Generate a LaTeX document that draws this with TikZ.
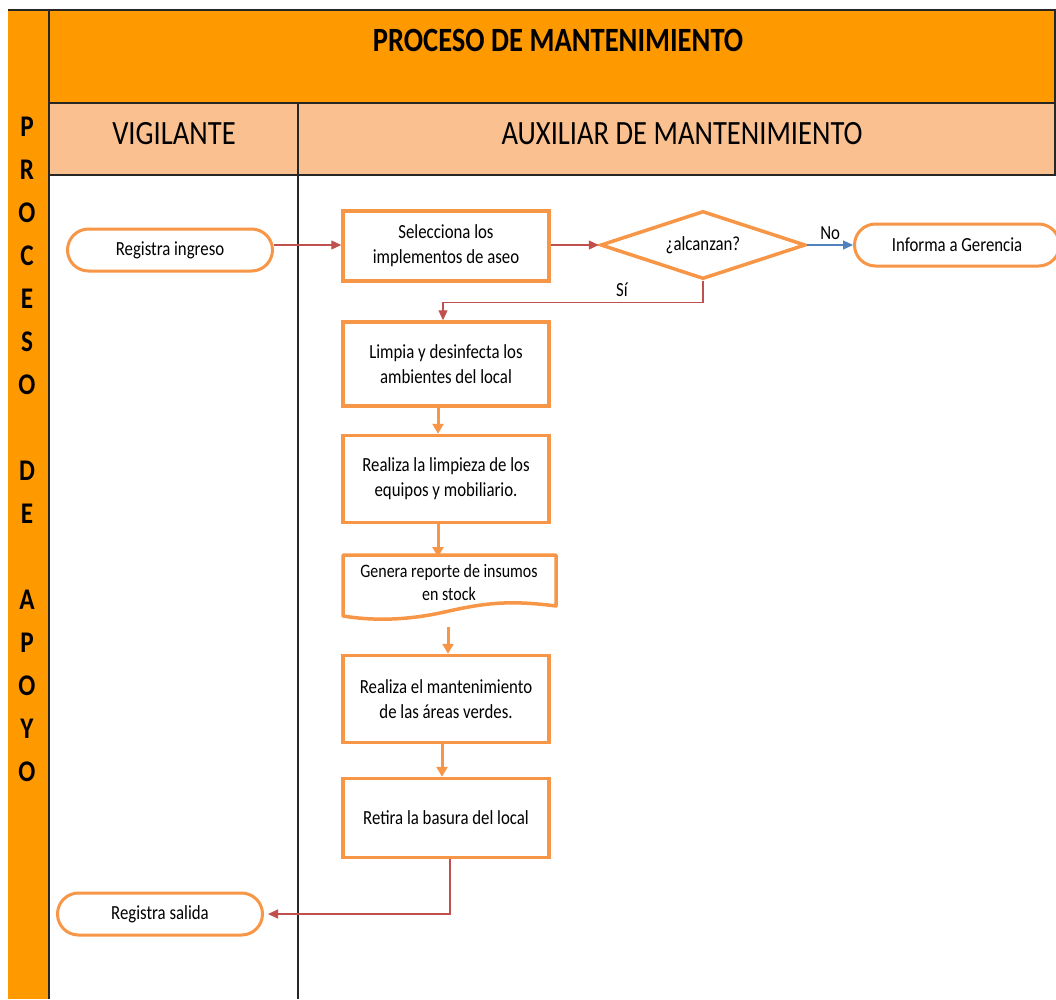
\documentclass[tikz,border=0pt]{standalone}
\usepackage{fontspec}
\setmainfont{Carlito}[FakeStretch=0.84]
\usetikzlibrary{shapes.geometric,arrows.meta}
\definecolor{hdr}{HTML}{FF9900}
\definecolor{subhdr}{HTML}{FAC090}
\definecolor{boxline}{HTML}{F79646}
\definecolor{flowred}{HTML}{C0504D}
\definecolor{flowblue}{HTML}{4F81BD}
\tikzset{
  grid/.style={line width=1.5pt, black!85},
  boxfont/.style={font=\fontsize{20}{25}\selectfont},
  stepbox/.style={draw=boxline, line width=3.5pt, fill=white, minimum width=206, minimum height=80,
    align=center, inner sep=2pt, boxfont},
  terminal/.style={draw=boxline, line width=3pt, fill=white, rounded corners=21pt,
    minimum width=205, minimum height=42, boxfont},
  decision/.style={diamond, draw=boxline, line width=3.5pt, fill=white, aspect=3, inner sep=0pt,
    minimum width=205, minimum height=68, boxfont},
  redflow/.style={draw=flowred, line width=1.2pt, -{Triangle[length=10pt,width=9pt]}},
  blueflow/.style={draw=flowblue, line width=1.2pt, -{Triangle[length=10pt,width=9pt]}},
  orangeflow/.style={draw=boxline, line width=3pt, -{Triangle[length=10pt,width=11pt]}},
  lblock/.style={font=\fontsize{30}{32}\selectfont\bfseries},
  headfont/.style={font=\fontsize{34}{38}\selectfont},
  flowlabel/.style={font=\fontsize{20}{24}\selectfont},
}
\begin{document}
\begin{tikzpicture}[x=1pt,y=-1pt]
\useasboundingbox (0,0) rectangle (1056,999);
\fill[white] (0,0) rectangle (1056,999);

% header bands and lanes
\fill[hdr] (8,10) rectangle (1056,103);
\fill[hdr] (8,103) rectangle (49,999);
\fill[subhdr] (49,103) rectangle (1056,175);
\draw[grid] (8,10) -- (1056,10);
\draw[grid] (1055,10) -- (1055,175);
\draw[grid] (49,10) -- (49,999);
\draw[grid] (49,103) -- (1056,103);
\draw[grid] (49,175) -- (1056,175);
\draw[grid] (298,103) -- (298,999);

\node[font=\fontsize{34}{38}\selectfont\bfseries] (title) at (558,40) {PROCESO DE MANTENIMIENTO};
\node[headfont] (lane1) at (174,134) {VIGILANTE};
\node[headfont] (lane2) at (682,134) {AUXILIAR DE MANTENIMIENTO};

% vertical side label
\foreach \ch [count=\i from 0] in {P,R,O,C,E,S,O,{},D,E,{},A,P,O,Y,O}
  \node[lblock] (side\i) at (27,{127+43*\i}) {\ch};

% flow elements
\node[terminal] (ingreso) at (170,250) {Registra ingreso};
\node[stepbox, minimum height=70] (sel) at (446,246) {Selecciona los\\implementos de aseo};
\node[decision] (dec) at (703,245) {¿alcanzan?};
\node[terminal] (ger) at (957,245) {Informa a Gerencia};
\node[stepbox, minimum height=84] (limpia) at (446,364) {Limpia y desinfecta los\\ambientes del local};
\node[stepbox, minimum height=87] (equipos) at (446,479) {Realiza la limpieza de los\\equipos y mobiliario.};

% document shape
\draw[draw=boxline, line width=3.5pt, fill=white, line join=round]
  (343,555) -- (556,555) -- (556,606)
  .. controls (510,600) and (485,603) .. (449,611)
  .. controls (415,619) and (380,622) .. (343,616) -- cycle;
\node[font=\fontsize{19}{23}\selectfont, align=center] (reporte) at (449,582) {Genera reporte de insumos\\en stock};
\coordinate (repbot) at (448,627);

\node[stepbox, minimum height=87] (mant) at (446,699) {Realiza el mantenimiento\\de las áreas verdes.};
\node[stepbox, minimum height=79] (basura) at (446,818) {Retira la basura del local};
\node[terminal] (salida) at (160,914) {Registra salida};

% connectors
\draw[redflow] (ingreso.east |- dec.west) -- (sel.west |- dec.west);
\draw[redflow] (sel.east |- dec.west) -- (dec.west);
\draw[blueflow] (dec.east) -- node[above=1pt, flowlabel] (nolbl) {No} (ger.west);
\draw[redflow] (dec.south) -- ++(0,22) -| ([xshift=-3pt]limpia.north);
\node[flowlabel] (silbl) at (622,290) {Sí};
\draw[orangeflow] ([xshift=-8pt]limpia.south) -- ([xshift=-8pt]equipos.north);
\draw[orangeflow] ([xshift=-8pt]equipos.south) -- ([xshift=-8pt,yshift=-2pt]equipos.south |- 0,555);
\draw[orangeflow] (repbot) -- (repbot |- mant.north);
\draw[orangeflow] ([xshift=-4pt]mant.south) -- ([xshift=-4pt]basura.north);
\draw[redflow] ([xshift=4pt]basura.south) |- ([xshift=4pt]salida.east);
\end{tikzpicture}
\end{document}
